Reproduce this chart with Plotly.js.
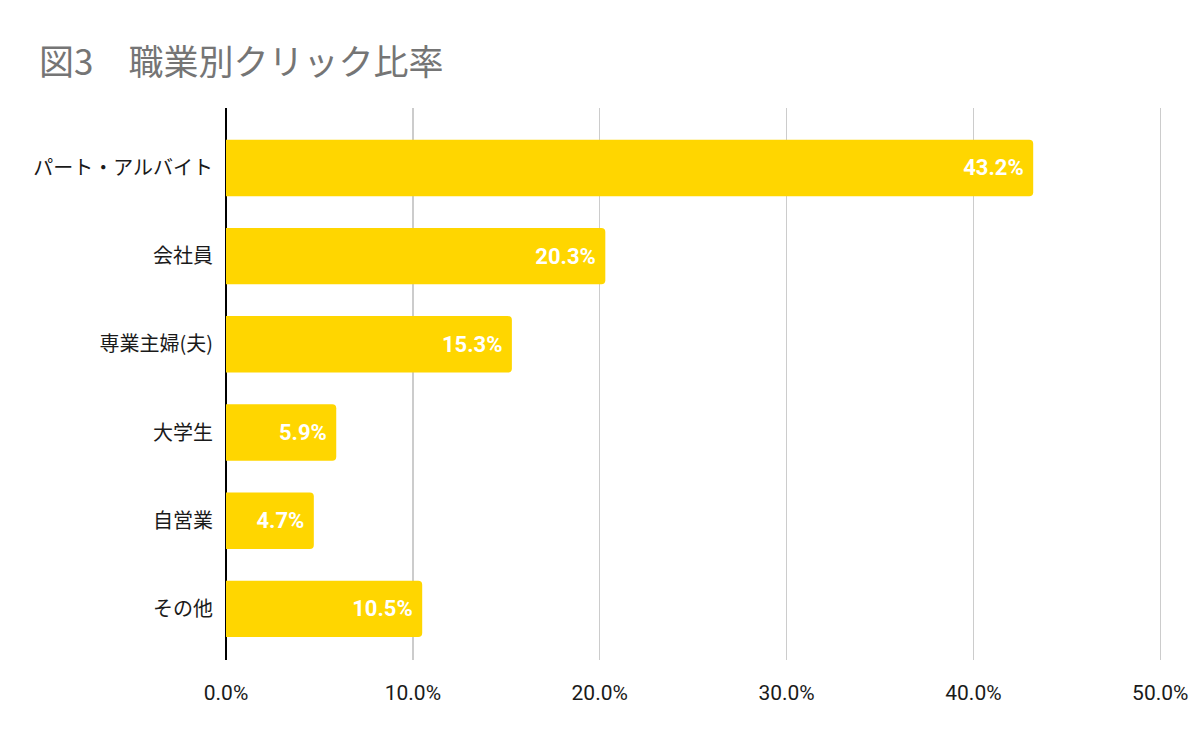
<!DOCTYPE html>
<html>
<head>
<meta charset="utf-8">
<script src="https://cdn.plot.ly/plotly-3.0.1.min.js"></script>
<style>
  body { margin: 0; background: #fff; }
  #chart { width: 1200px; height: 743px; }
</style>
</head>
<body>
<div id="chart"></div>
<script>
var jobs = ['パート・アルバイト', '会社員', '専業主婦(夫)', '大学生', '自営業', 'その他'];
var shares = [43.2, 20.3, 15.3, 5.9, 4.7, 10.5];
var tickVals = [0, 10, 20, 30, 40, 50];
var tickText = ['0.0%', '10.0%', '20.0%', '30.0%', '40.0%', '50.0%'];

// trailing nbsp gives the gap between label and bar end
var labels = shares.map(function(v){ return v.toFixed(1) + '%\u00a0'; });

var trace = {
  type: 'bar',
  orientation: 'h',
  y: jobs,
  x: shares,
  text: labels,
  textposition: 'inside',
  insidetextanchor: 'end',
  constraintext: 'none',
  textfont: { family: 'Roboto, Arial, sans-serif', size: 22, color: '#ffffff', weight: 'bold' },
  marker: { color: '#FFD600', line: { width: 0 } },
  hoverinfo: 'none',
  cliponaxis: false
};

var layout = {
  width: 1200,
  height: 743,
  margin: { l: 226, r: 36, t: 108, b: 83 },
  paper_bgcolor: '#ffffff',
  plot_bgcolor: '#ffffff',
  showlegend: false,
  bargap: 0.36,
  barcornerradius: 4,
  title: {
    text: '図3　職業別クリック比率',
    font: { family: '"Noto Sans CJK JP", sans-serif', size: 35, color: '#757575' },
    xref: 'container', x: 39 / 1200, xanchor: 'left',
    yref: 'container', y: 1 - 63 / 743, yanchor: 'middle'
  },
  xaxis: {
    range: [0, 50.2],
    tickvals: tickVals,
    ticktext: tickText,
    showgrid: true,
    gridcolor: '#cccccc',
    gridwidth: 1.5,
    zeroline: true,
    zerolinecolor: '#000000',
    zerolinewidth: 1.5,
    ticks: '',
    ticklabelstandoff: 18,
    tickfont: { family: 'Roboto, Arial, sans-serif', size: 21, color: '#1a1a1a' },
    fixedrange: true
  },
  yaxis: {
    type: 'category',
    range: [5.58, -0.68],
    showgrid: false,
    zeroline: false,
    ticks: '',
    ticklabelstandoff: 12,
    tickfont: { family: '"Noto Sans CJK JP", sans-serif', size: 20, color: '#1a1a1a' },
    fixedrange: true
  }
};

Plotly.newPlot('chart', [trace], layout, { staticPlot: true });
</script>
</body>
</html>
